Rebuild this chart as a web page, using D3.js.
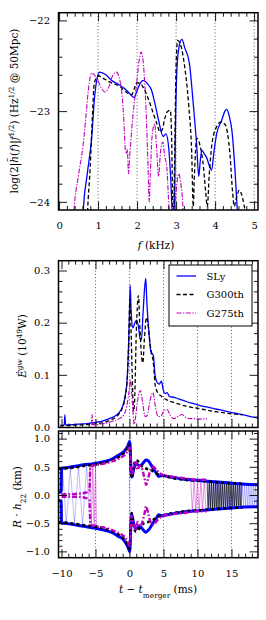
<!DOCTYPE html>
<html><head><meta charset="utf-8">
<script src="https://cdn.jsdelivr.net/npm/d3@7"></script>
<style>
body{margin:0;background:#fff}
svg{display:block}
text{font-family:"DejaVu Serif",serif;fill:#000}
</style>
</head><body>
<svg id="c" width="266" height="620"></svg>
<script>
// ---------------- DATA ----------------
// Top panel: spectrum, f in kHz, value = log10(...)
const slyTopF = [0.58,0.62,0.72,0.83,0.92,0.98,1.04,1.2,1.34,1.5,1.68,1.8,1.92,2.02,2.1,2.16,2.25,2.37,2.46,2.55,2.67,2.74,2.8,2.86,2.92,2.95,2.98,3.02,3.08,3.15,3.22,3.34,3.44,3.53,3.58,3.62,3.66,3.72,3.79,3.85,3.91,3.97,4.04,4.17,4.25,4.3,4.36,4.43,4.51,4.57,4.62];
const slyTopV = [-24.5,-24.1,-23.7,-23.32,-22.8,-22.63,-22.57,-22.6,-22.66,-22.7,-22.75,-22.8,-22.85,-22.75,-22.68,-22.66,-22.69,-22.77,-22.92,-23.1,-23.28,-23.25,-23.36,-23.72,-24.3,-24.4,-23.3,-22.55,-22.28,-22.21,-22.3,-22.47,-22.92,-23.39,-23.72,-23.55,-23.43,-23.47,-23.52,-23.6,-23.65,-23.45,-23.25,-23.1,-23.0,-22.98,-23.05,-23.21,-23.65,-24.1,-24.4];

const g300TopF = [0.7,0.73,0.8,0.86,0.9,0.96,1.01,1.1,1.3,1.56,1.75,1.86,1.93,1.99,2.06,2.16,2.3,2.42,2.5,2.59,2.65,2.7,2.77,2.85,2.88,2.91,2.93,2.96,3.0,3.04,3.1,3.2,3.32,3.4,3.44,3.47,3.53,3.62,3.7,3.76,3.8,3.85,3.92,4.04,4.15,4.26,4.38,4.45,4.49,4.55,4.62,4.7,4.77,4.85];
const g300TopV = [-24.4,-24.1,-23.6,-23.0,-22.7,-22.63,-22.61,-22.63,-22.68,-22.73,-22.8,-22.82,-22.75,-22.69,-22.69,-22.74,-22.88,-23.03,-23.13,-23.23,-23.2,-23.1,-23.01,-22.99,-23.2,-23.9,-24.3,-23.6,-22.5,-22.22,-22.25,-22.45,-22.92,-23.46,-24.05,-23.7,-23.3,-23.39,-23.61,-23.9,-24.05,-23.7,-23.36,-23.17,-23.12,-23.15,-23.47,-23.9,-24.05,-23.95,-23.87,-23.95,-24.1,-24.3];

const g275TopF = [0.35,0.38,0.5,0.62,0.7,0.75,0.8,0.84,0.9,0.97,1.08,1.18,1.28,1.38,1.47,1.55,1.61,1.66,1.7,1.73,1.75,1.78,1.81,1.86,1.93,1.99,2.05,2.1,2.14,2.19,2.24,2.28,2.31,2.34,2.38,2.45,2.5,2.55,2.6,2.66,2.71,2.76,2.82,2.86,2.93,2.97,3.02,3.07,3.12,3.16,3.2];
const g275TopV = [-24.3,-24.1,-23.7,-23.36,-23.0,-22.77,-22.62,-22.58,-22.6,-22.64,-22.74,-22.79,-22.73,-22.6,-22.57,-22.65,-22.8,-23.1,-23.43,-23.47,-23.42,-23.69,-23.5,-23.21,-22.9,-22.69,-22.45,-22.35,-22.4,-22.65,-23.1,-23.6,-24.0,-23.7,-23.3,-23.14,-23.4,-23.72,-23.45,-23.34,-23.5,-23.61,-24.1,-24.4,-24.4,-24.1,-23.8,-23.69,-23.8,-23.95,-24.3];

// Middle panel: GW luminosity (10^49 W) vs t - t_merger (ms)
const slyET = [-10.2,-9.6,-9.5,-9.4,-8,-6,-5,-4,-3,-2,-1.5,-1.0,-0.6,-0.35,-0.15,0.0,0.1,0.25,0.5,0.8,1.05,1.35,1.55,1.75,2.0,2.25,2.4,2.55,2.75,3.0,3.2,3.5,3.75,4.0,4.35,4.7,4.95,5.25,5.55,5.9,6.5,7.2,7.9,9.0,10.4,11.5,12.85,14.0,15.3,16.5,17.8,18.9];
const slyEV = [0.003,0.004,0.023,0.004,0.005,0.007,0.009,0.011,0.016,0.022,0.028,0.04,0.062,0.09,0.15,0.22,0.272,0.22,0.19,0.2,0.205,0.19,0.17,0.167,0.22,0.27,0.285,0.24,0.2,0.16,0.141,0.138,0.1,0.087,0.082,0.088,0.072,0.064,0.066,0.058,0.057,0.054,0.051,0.046,0.041,0.038,0.034,0.031,0.027,0.024,0.02,0.017];

const g300ET = [-10.2,-9,-7,-5,-4,-3,-2.35,-1.6,-1.1,-0.6,-0.3,-0.1,0.05,0.2,0.4,0.6,0.75,1.0,1.2,1.32,1.5,1.75,1.96,2.2,2.5,2.8,3.04,3.3,3.53,3.78,4.0,4.3,4.6,5.0,5.5,6.0,7.0,8.0,9.0,10.4,11.5,12.85,14.0,15.0,16.0,16.6];
const g300EV = [0.002,0.003,0.004,0.006,0.008,0.012,0.016,0.024,0.035,0.06,0.1,0.17,0.245,0.2,0.1,0.03,0.05,0.18,0.24,0.252,0.2,0.14,0.123,0.17,0.21,0.19,0.158,0.14,0.12,0.08,0.07,0.063,0.06,0.056,0.052,0.049,0.045,0.041,0.038,0.035,0.032,0.029,0.027,0.025,0.024,0.023];

const g275ET = [-5.6,-5.5,-5.4,-4.5,-3.5,-2.5,-1.5,-0.8,-0.4,0.0,0.15,0.4,0.7,0.9,1.3,1.6,1.9,2.3,2.6,3.0,3.45,3.8,4.2,4.6,5.0,5.5,6.0,6.5,7.1,7.7,8.3,8.9,9.6,10.4,11.4];
const g275EV = [0.004,0.024,0.004,0.005,0.007,0.011,0.016,0.024,0.04,0.075,0.091,0.05,0.005,0.02,0.06,0.07,0.05,0.02,0.022,0.05,0.066,0.04,0.02,0.02,0.03,0.034,0.022,0.016,0.02,0.024,0.018,0.016,0.016,0.015,0.016];

// Bottom panel: R*h22 (km) amplitude envelopes
const slyHT  = [-10.44,-10.05,-10.0,-9.5,-8.5,-7.5,-6.5,-5.5,-4.6,-3.5,-2.5,-1.7,-1.0,-0.5,-0.2,0.0,0.08,0.2,0.35,0.6,1.0,1.5,1.9,2.4,2.8,3.2,3.6,4.0,4.3,4.8,5.5,6.5,8.0,9.5,11.0,12.5,14.0,15.5,17.0,18.9];
const slyHUp = [0.05,0.05,0.47,0.48,0.5,0.52,0.54,0.55,0.57,0.6,0.64,0.7,0.75,0.82,0.88,0.95,0.9,0.5,0.32,0.45,0.55,0.52,0.55,0.62,0.6,0.53,0.45,0.38,0.33,0.35,0.33,0.31,0.28,0.265,0.25,0.235,0.22,0.205,0.19,0.18];
const slyHLo = [-0.1,-0.1,-0.5,-0.5,-0.52,-0.54,-0.56,-0.58,-0.6,-0.63,-0.67,-0.73,-0.78,-0.86,-0.93,-1.0,-0.95,-0.55,-0.35,-0.5,-0.6,-0.56,-0.6,-0.66,-0.62,-0.55,-0.47,-0.4,-0.35,-0.37,-0.35,-0.33,-0.3,-0.285,-0.27,-0.255,-0.24,-0.225,-0.215,-0.21];

const g300HT  = [-10.44,-9.5,-8,-6.5,-5,-3.5,-2.5,-1.5,-0.8,-0.3,-0.05,0.1,0.3,0.6,0.95,1.4,1.9,2.4,3.0,3.5,4.0,4.5,5.0,6.0,7.5,9.0,10.5,12.0,13.5,15.0,16.6];
const g300HUp = [0.46,0.47,0.49,0.52,0.54,0.58,0.62,0.68,0.75,0.84,0.9,0.75,0.3,0.5,0.62,0.58,0.5,0.47,0.45,0.42,0.38,0.35,0.34,0.31,0.28,0.26,0.25,0.235,0.22,0.21,0.2];
const g300HLo = [-0.48,-0.49,-0.51,-0.54,-0.56,-0.6,-0.65,-0.71,-0.78,-0.88,-0.95,-0.8,-0.32,-0.55,-0.65,-0.6,-0.52,-0.49,-0.47,-0.44,-0.4,-0.37,-0.36,-0.33,-0.3,-0.28,-0.27,-0.255,-0.24,-0.23,-0.22];

const g275HT  = [-10.0,-8.0,-6.5,-5.9,-5.75,-5.0,-4.0,-3.0,-2.0,-1.2,-0.6,-0.2,0.0,0.15,0.3,0.6,0.9,1.2,1.5,1.9,2.2,2.45,2.75,3.1,3.5,4.0,4.5,5.0,6.0,7.0,8.0,9.0,10.0,11.3];
const g275HUp = [0.01,0.02,0.04,0.07,0.5,0.53,0.55,0.58,0.62,0.67,0.72,0.8,0.84,0.7,0.35,0.5,0.58,0.45,0.52,0.45,0.3,0.18,0.3,0.45,0.5,0.44,0.38,0.35,0.33,0.31,0.3,0.28,0.27,0.27];
const g275HLo = [-0.03,-0.03,-0.05,-0.09,-0.52,-0.55,-0.57,-0.6,-0.65,-0.7,-0.76,-0.85,-0.9,-0.75,-0.37,-0.53,-0.62,-0.48,-0.55,-0.48,-0.33,-0.2,-0.33,-0.48,-0.53,-0.46,-0.4,-0.37,-0.35,-0.33,-0.32,-0.3,-0.29,-0.29];

// Bottom panel: oscillating strain (thin lines), vertices
const slyPreT = [-10.0,-9.85,-9.3,-8.7,-8.1,-7.5,-6.9,-6.3,-5.8];
const slyPreV = [0.0,0.47,-0.5,0.49,-0.52,0.51,-0.54,0.53,-0.56];
const g275PreT = [-5.95,-5.8,-5.6,-5.4,-5.2,-5.0,-4.85];
const g275PreV = [0.0,0.52,-0.54,0.53,-0.55,0.54,-0.56];
const slyMergT = [0.02,0.1];
const slyMergV = [0.95,-1.0];
const g275PostT = [9.0,9.25,9.5,9.75,10.0,10.25,10.5,10.75,11.0,11.25];
const g275PostV = [0.28,-0.3,0.28,-0.3,0.27,-0.3,0.27,-0.29,0.27,-0.29];
const g300PostT = [11.40,11.56,11.72,11.88,12.04,12.20,12.36,12.52,12.68,12.84,13.00,13.16,13.32,13.48,13.64,13.80,13.96,14.12,14.28,14.44,14.60,14.76,14.92,15.08,15.24,15.40,15.56,15.72,15.88,16.04,16.20,16.36,16.52];
const g300PostV = [0.25,-0.27,0.25,-0.27,0.245,-0.265,0.245,-0.265,0.24,-0.26,0.24,-0.26,0.235,-0.255,0.235,-0.255,0.23,-0.25,0.23,-0.25,0.225,-0.245,0.225,-0.245,0.22,-0.24,0.22,-0.24,0.215,-0.235,0.215,-0.235,0.21];
const slyPostT = [11.48,11.64,11.80,11.96,12.12,12.28,12.44,12.60,12.76,12.92,13.08,13.24,13.40,13.56,13.72,13.88,14.04,14.20,14.36,14.52,14.68,14.84,15.00,15.16,15.32,15.48,15.64,15.80,15.96,16.12,16.28,16.44,16.60,16.76,16.92,17.08,17.24,17.40,17.56,17.72,17.88,18.04,18.20,18.36,18.52,18.68,18.84];
const slyPostV = [0.245,-0.265,0.243,-0.263,0.24,-0.26,0.237,-0.257,0.234,-0.254,0.231,-0.251,0.228,-0.248,0.225,-0.245,0.222,-0.242,0.219,-0.239,0.216,-0.236,0.213,-0.233,0.21,-0.23,0.207,-0.227,0.204,-0.224,0.201,-0.221,0.198,-0.218,0.195,-0.216,0.193,-0.214,0.19,-0.212,0.188,-0.21,0.186,-0.208,0.184,-0.206,0.182];

// Ticks
const fTicks = [0,1,2,3,4,5];
const fTickLabels = ["0","1","2","3","4","5"];
const logTicks = [-24,-23,-22];
const logTickLabels = ["\u221224","\u221223","\u221222"];
const eTicks = [0.0,0.1,0.2,0.3];
const eTickLabels = ["0.0","0.1","0.2","0.3"];
const hTicks = [-1.0,-0.5,0.0,0.5,1.0];
const hTickLabels = ["\u22121.0","\u22120.5","0.0","0.5","1.0"];
const tTicks = [-10,-5,0,5,10,15];
const tTickLabels = ["\u221210","\u22125","0","5","10","15"];
const tGrid = [-5,0,5,10,15];
const fGrid = [1,2,3,4,5];

const legendNames = ["SLy","G300th","G275th"];

// ---------------- LAYOUT ----------------
const svg = d3.select("#c");
const L = 58.5, R = 258;
const P1 = {t:12.7, b:210}, P2 = {t:260.7, b:427.5}, P3 = {t:431, b:557.7};

const xF = d3.scaleLinear().domain([-0.015,5.1]).range([L,R]);
const y1 = d3.scaleLinear().domain([-24.09,-21.915]).range([P1.b,P1.t]);
const xT = d3.scaleLinear().domain([-10.44,18.9]).range([L,R]);
const y2 = d3.scaleLinear().domain([-0.001,0.3188]).range([P2.b,P2.t]);
const y3 = d3.scaleLinear().domain([-1.112,1.135]).range([P3.b,P3.t]);

const BLUE = "#0000ff", MAG = "#bf00bf";
const styles = {
  sly:  {stroke:BLUE, w:1.3, dash:null},
  g300: {stroke:"#000", w:1.3, dash:"4,2.5"},
  g275: {stroke:MAG, w:1.1, dash:"5,1.5,1.3,1.5"}
};

const defs = svg.append("defs");
function clip(id, top, bot){
  defs.append("clipPath").attr("id",id).append("rect")
    .attr("x",L).attr("y",top).attr("width",R-L).attr("height",bot-top);
}
clip("c1",P1.t,P1.b); clip("c2",P2.t,P2.b); clip("c3",P3.t,P3.b);

function grid(x, vals, top, bot){
  svg.append("g").selectAll("line").data(vals).join("line")
    .attr("x1",d=>x(d)).attr("x2",d=>x(d)).attr("y1",top).attr("y2",bot)
    .attr("stroke","#333").attr("stroke-width",0.8).attr("stroke-dasharray","1,2.3");
}
grid(xF,fGrid,P1.t,P1.b);
grid(xT,tGrid,P2.t,P2.b);
grid(xT,tGrid,P3.t,P3.b);

function drawLine(g, xs, ys, x, y, st, curve){
  const pts = xs.map((d,i)=>[d,ys[i]]);
  const line = d3.line().x(d=>x(d[0])).y(d=>y(d[1])).curve(curve||d3.curveMonotoneX);
  const p = g.append("path").datum(pts).attr("d",line).attr("fill","none")
    .attr("stroke",st.stroke).attr("stroke-width",st.w)
    .attr("stroke-linejoin","round");
  if(st.dash) p.attr("stroke-dasharray",st.dash);
  if(st.op) p.attr("stroke-opacity",st.op);
  return p;
}

// Panel 1
const g1 = svg.append("g").attr("clip-path","url(#c1)");
drawLine(g1,slyTopF,slyTopV,xF,y1,styles.sly);
drawLine(g1,g300TopF,g300TopV,xF,y1,styles.g300);
drawLine(g1,g275TopF,g275TopV,xF,y1,styles.g275);

// Panel 2
const g2 = svg.append("g").attr("clip-path","url(#c2)");
drawLine(g2,slyET,slyEV,xT,y2,styles.sly);
drawLine(g2,g300ET,g300EV,xT,y2,styles.g300);
drawLine(g2,g275ET,g275EV,xT,y2,styles.g275);

// Panel 3
const g3 = svg.append("g").attr("clip-path","url(#c3)");
const thinB = {stroke:BLUE,w:0.6,op:0.45}, thinM = {stroke:MAG,w:0.7,op:0.6}, thinK = {stroke:"#000",w:0.65,op:1};
drawLine(g3,slyPreT,slyPreV,xT,y3,thinB,d3.curveLinear);
drawLine(g3,slyMergT,slyMergV,xT,y3,thinB,d3.curveLinear);
drawLine(g3,slyPostT,slyPostV,xT,y3,thinB,d3.curveLinear);
drawLine(g3,g300PostT,g300PostV,xT,y3,thinK,d3.curveLinear);
drawLine(g3,g275PreT,g275PreV,xT,y3,thinM,d3.curveLinear);
drawLine(g3,g275PostT,g275PostV,xT,y3,thinM,d3.curveLinear);
const envB = {stroke:BLUE,w:3}, envK = {stroke:"#000",w:2.6,dash:"3,3"}, envM = {stroke:MAG,w:2.4,dash:"5,2,1.6,2"};
drawLine(g3,slyHT,slyHUp,xT,y3,envB);
drawLine(g3,slyHT,slyHLo,xT,y3,envB);
drawLine(g3,g300HT,g300HUp,xT,y3,envK);
drawLine(g3,g300HT,g300HLo,xT,y3,envK);
drawLine(g3,g275HT,g275HUp,xT,y3,envM);
drawLine(g3,g275HT,g275HLo,xT,y3,envM);

// ---------------- AXES ----------------
const MAJ = 8.5, MIN = 4;
function axes(x, y, top, bot, xMaj, xMin, yMaj, yMin, xLabels, yLabels){
  const g = svg.append("g");
  const style = a => { a.select(".domain").remove(); a.selectAll("line").attr("stroke","#000").attr("stroke-width",0.9); a.selectAll("text").attr("font-size",10).attr("font-family","DejaVu Serif"); };
  g.append("g").attr("transform",`translate(${L},0)`)
    .call(d3.axisLeft(y).tickValues(yMaj).tickSize(-MAJ).tickPadding(8.5).tickFormat((d,i)=>yLabels[i])).call(style);
  g.append("g").attr("transform",`translate(${L},0)`)
    .call(d3.axisLeft(y).tickValues(yMin).tickSize(-MIN).tickFormat("")).call(style);
  g.append("g").attr("transform",`translate(${R},0)`)
    .call(d3.axisRight(y).tickValues(yMaj).tickSize(-MAJ).tickFormat("")).call(style);
  g.append("g").attr("transform",`translate(${R},0)`)
    .call(d3.axisRight(y).tickValues(yMin).tickSize(-MIN).tickFormat("")).call(style);
  const bx = d3.axisBottom(x).tickValues(xMaj).tickSize(-MAJ).tickPadding(12);
  bx.tickFormat(xLabels ? (d,i)=>xLabels[i] : "");
  g.append("g").attr("transform",`translate(0,${bot})`).call(bx).call(style);
  g.append("g").attr("transform",`translate(0,${bot})`)
    .call(d3.axisBottom(x).tickValues(xMin).tickSize(-MIN).tickFormat("")).call(style);
  g.append("g").attr("transform",`translate(0,${top})`)
    .call(d3.axisTop(x).tickValues(xMaj).tickSize(-MAJ).tickFormat("")).call(style);
  g.append("g").attr("transform",`translate(0,${top})`)
    .call(d3.axisTop(x).tickValues(xMin).tickSize(-MIN).tickFormat("")).call(style);
  g.append("rect").attr("x",L).attr("y",top).attr("width",R-L).attr("height",bot-top)
    .attr("fill","none").attr("stroke","#000").attr("stroke-width",1.5);
}
const fMinor = d3.range(0.2,5.1,0.2).filter(v=>Math.abs(v-Math.round(v))>1e-6);
const logMinor = d3.range(-24.0,-21.9,0.2).filter(v=>Math.abs(v-Math.round(v))>1e-6);
const tMinor = d3.range(-10,19,1).filter(v=>v%5!==0);
const eMinor = d3.range(0,0.32,0.02).filter(v=>Math.abs(v*10-Math.round(v*10))>1e-6);
const hMinor = d3.range(-1.1,1.15,0.1).filter(v=>Math.abs(v*2-Math.round(v*2))>1e-6);
axes(xF,y1,P1.t,P1.b,fTicks,fMinor,logTicks,logMinor,fTickLabels,logTickLabels);
axes(xT,y2,P2.t,P2.b,tTicks,tMinor,eTicks,eMinor,null,eTickLabels);
axes(xT,y3,P3.t,P3.b,tTicks,tMinor,hTicks,hMinor,tTickLabels,hTickLabels);

// ---------------- LABELS ----------------
const FS = 10.5;
function label(x, y, rot, parts){
  const t = svg.append("text").attr("transform",`translate(${x},${y}) rotate(${rot})`)
    .attr("text-anchor","middle").attr("font-size",FS);
  parts.forEach(p=>{
    const s = t.append("tspan").text(p.s);
    if(p.i) s.attr("font-style","italic");
    if(p.sup){ s.attr("font-size",FS*0.7).attr("baseline-shift","super"); }
    if(p.sub){ s.attr("font-size",FS*0.7).attr("baseline-shift","sub"); }
  });
  return t;
}
label(156,249,0,[{s:"f",i:1},{s:" (kHz)"}]);
label(158,593,0,[{s:"t",i:1},{s:" \u2212 "},{s:"t",i:1},{s:"merger",sub:1},{s:" (ms)"}]);
label(17.5,111,-90,[{s:"log(2|"},{s:"h\u0303",i:1},{s:"("},{s:"f",i:1},{s:")|"},{s:"f",i:1},{s:"1/2",sup:1},{s:") (Hz"},{s:"1/2",sup:1},{s:" @ 50Mpc)"}]);
label(26,346,-90,[{s:"\u0116",i:1},{s:"gw",sup:1,i:1},{s:" (10"},{s:"49",sup:1},{s:"W)"}]);
label(21,497,-90,[{s:"R",i:1},{s:" \u00b7 "},{s:"h",i:1},{s:"22",sub:1},{s:" (km)"}]);

// ---------------- LEGEND ----------------
const lg = svg.append("g");
lg.append("rect").attr("x",169).attr("y",265).attr("width",83).attr("height",61)
  .attr("fill","#fff").attr("stroke","#000").attr("stroke-width",1);
const legStyles = [styles.sly, styles.g300, styles.g275];
const legY = [276, 294.5, 313];
legendNames.forEach((n,i)=>{
  const st = legStyles[i];
  const l = lg.append("line").attr("x1",176.5).attr("x2",196).attr("y1",legY[i]).attr("y2",legY[i])
    .attr("stroke",st.stroke).attr("stroke-width",st.w);
  if(st.dash) l.attr("stroke-dasharray",st.dash);
  lg.append("text").attr("x",206.5).attr("y",legY[i]+3.6).attr("font-size",10).text(n);
});
</script>
</body></html>
